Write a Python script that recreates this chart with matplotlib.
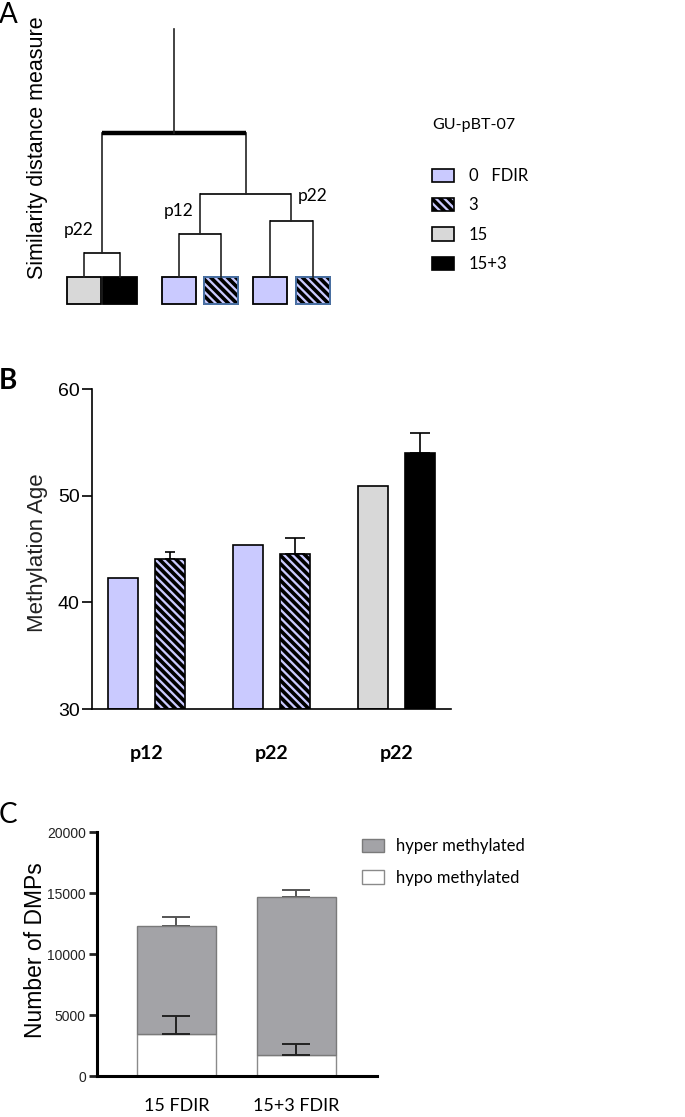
import matplotlib
matplotlib.use("Agg")
import matplotlib.pyplot as plt
from matplotlib.patches import Patch
from matplotlib.transforms import ScaledTranslation

plt.rcParams['font.family'] = ['Lato', 'DejaVu Sans']
plt.rcParams['hatch.linewidth'] = 2.6

W, H = 685, 1117

# ---- data -------------------------------------------------------------
# panel A: dendrogram (leaf order left->right), heights in distance units
leaf_cond = ['15', '15+3', '0', '3', '0', '3']
merges = [(0, 1, 24), (2, 3, 43), (4, 5, 56), (7, 8, 83), (6, 9, 144)]
root_top = 248
cluster_labels = ['p22', 'p12', 'p22']

# panel B: methylation age
b_groups = ['p12', 'p22', 'p22']
b_cond = ['0', '3', '0', '3', '15', '15+3']
b_age = [42.25, 44.1, 45.4, 44.5, 50.9, 54.0]
b_err = [0.0, 0.65, 0.0, 1.5, 0.0, 1.9]

# panel C: number of DMPs
c_groups = ['15 FDIR', '15+3 FDIR']
c_hypo = [3450, 1750]
c_hypo_err = [1500, 880]
c_total = [12300, 14670]
c_total_err = [770, 600]

legend_labels = {'0': '0   FDIR', '3': '3', '15': '15', '15+3': '15+3'}

PURPLE = '#cacaff'
style = {
    '0': dict(facecolor=PURPLE, edgecolor='black', hatch=None),
    '3': dict(facecolor=PURPLE, edgecolor='black', hatch='\\\\\\\\'),
    '15': dict(facecolor='#d8d8d8', edgecolor='black', hatch=None),
    '15+3': dict(facecolor='black', edgecolor='black', hatch=None),
}


def frac(l, t, r, b):
    return [l / W, 1 - b / H, (r - l) / W, (b - t) / H]


fig = plt.figure(figsize=(W / 100, H / 100), dpi=100)

# ===== A: dendrogram ====================================================
axA = fig.add_axes(frac(0, 0, W, 330))
axA.set_xlim(0, W)
axA.set_ylim(-53, 277)
axA.axis('off')

leaf_x = [84, 120, 179, 221, 270, 313]
node_x = list(leaf_x)
node_h = [0] * len(leaf_x)
for i, (a, b, h) in enumerate(merges):
    lw = 3.2 if i == len(merges) - 1 else 1.2
    xa, xb = node_x[a], node_x[b]
    axA.plot([xa, xa], [node_h[a], h], color='#222222', lw=1.2)
    axA.plot([xb, xb], [node_h[b], h], color='#222222', lw=1.2)
    axA.plot([xa, xb], [h, h], color='black', lw=lw, solid_capstyle='butt')
    node_x.append((xa + xb) / 2)
    node_h.append(h)
axA.plot([node_x[-1], node_x[-1]], [node_h[-1], root_top], color='#222222', lw=1.2)

for x, c in zip(leaf_x, leaf_cond):
    st = style[c]
    axA.bar(x, 27, width=34, bottom=-27, facecolor=st['facecolor'],
            edgecolor=st['edgecolor'], hatch=st['hatch'], lw=1.3)
    if st['hatch']:
        axA.bar(x, 27, width=34, bottom=-27, facecolor='none',
                edgecolor='#4f79b0', lw=1.3)

# cluster labels at the left / middle / right sub-clusters
for lab, (x, y) in zip(cluster_labels, [(79, 47), (179, 66), (313, 81)]):
    axA.text(x, y, lab, ha='center', va='center', fontsize=12.5)

fig.text(38 / W, 1 - 148 / H, 'Similarity distance measure', rotation=90,
         ha='center', va='center', fontsize=15.5, family='Liberation Sans')
fig.text(8 / W, 1 - 15 / H, 'A', ha='center', va='center', fontsize=20)

fig.text(432 / W, 1 - 125 / H, 'GU-pBT-07', ha='left', va='center', fontsize=11.5)
handles = [Patch(facecolor=style[c]['facecolor'], edgecolor='black',
                 hatch=style[c]['hatch'], lw=1.2, label=legend_labels[c])
           for c in ['0', '3', '15', '15+3']]
fig.legend(handles=handles, loc='upper left',
           bbox_to_anchor=(417 / W, 1 - 153 / H), frameon=False,
           fontsize=12, handlelength=1.3, handleheight=0.85,
           handletextpad=0.9, labelspacing=0.8)

# ===== B: methylation age ===============================================
axB = fig.add_axes(frac(92, 389, 451, 709))
gx = range(len(b_groups))
offs = [-0.188, 0.188]
xs = [g + o for g in gx for o in offs]
for x, v, e, c in zip(xs, b_age, b_err, b_cond):
    st = style[c]
    axB.bar(x, v - 30, bottom=30, width=0.24, facecolor=st['facecolor'],
            edgecolor='black', hatch=st['hatch'], lw=1.2, zorder=2)
    if e > 0:
        cs = 3.8 if e < 1 else 7.2
        axB.errorbar(x, v, yerr=[[0], [e]], fmt='none', ecolor='black',
                     elinewidth=1.2, capsize=cs, capthick=1.2, zorder=1)
axB.set_xlim(-0.436, 2.44)
axB.set_ylim(30, 60)
axB.set_yticks([30, 40, 50, 60])
axB.set_xticks(list(gx))
axB.set_xticklabels(b_groups, fontsize=14, fontweight='bold')
axB.tick_params(axis='x', length=0, pad=26)
axB.tick_params(axis='y', length=7, width=1.2, labelsize=14, pad=2)
for t in axB.get_yticklabels():
    t.set_family('Liberation Sans')
for s in ['top', 'right']:
    axB.spines[s].set_visible(False)
for s in ['left', 'bottom']:
    axB.spines[s].set_linewidth(1.2)
fig.text(38 / W, 1 - 553 / H, 'Methylation Age', rotation=90, ha='center',
         va='center', fontsize=16, family='Liberation Sans', color='#222222')
fig.text(8 / W, 1 - 381 / H, 'B', ha='center', va='center', fontsize=20,
         fontweight='bold')

# ===== C: number of DMPs ================================================
axC = fig.add_axes(frac(97, 832.3, 377, 1076))
cx = list(range(len(c_groups)))
c_hyper = [t - h for t, h in zip(c_total, c_hypo)]
axC.bar(cx, c_hypo, width=0.658, facecolor='white', edgecolor='#8a8a8a',
        lw=1.0, label='hypo methylated', zorder=2)
axC.bar(cx, c_hyper, bottom=c_hypo, width=0.658, facecolor='#a3a3a7',
        edgecolor='#7a7a7a', lw=1.0, label='hyper methylated', zorder=2)
axC.errorbar(cx, c_hypo, yerr=[[0] * len(cx), c_hypo_err], fmt='none',
             ecolor='#222222', elinewidth=1.4, capsize=10, capthick=1.4, zorder=3)
axC.errorbar(cx, c_total, yerr=[[0] * len(cx), c_total_err], fmt='none',
             ecolor='#555555', elinewidth=1.4, capsize=10, capthick=1.4, zorder=1)
axC.set_xlim(-0.6625, 1.671)
axC.set_ylim(0, 20000)
axC.set_yticks([0, 5000, 10000, 15000, 20000])
axC.set_xticks(cx)
axC.set_xticklabels(c_groups, fontsize=13)
shift = ScaledTranslation(7 / 100, 0, fig.dpi_scale_trans)
for t in axC.get_xticklabels():
    t.set_transform(t.get_transform() + shift)
axC.tick_params(axis='x', length=0, pad=16)
axC.tick_params(axis='y', length=6, width=2, labelsize=10, pad=2, colors='#222222')
for t in axC.get_yticklabels():
    t.set_family('Liberation Sans')
for s in ['top', 'right']:
    axC.spines[s].set_visible(False)
for s in ['left', 'bottom']:
    axC.spines[s].set_linewidth(2.2)
h_, l_ = axC.get_legend_handles_labels()
fig.legend(h_[::-1], l_[::-1], loc='upper left',
           bbox_to_anchor=(347 / W, 1 - 823 / H), frameon=False, fontsize=12,
           handlelength=1.3, handleheight=0.85, handletextpad=0.75,
           labelspacing=0.95)
fig.text(36 / W, 1 - 950 / H, 'Number of DMPs', rotation=90, ha='center',
         va='center', fontsize=16.5, family='Liberation Sans')
fig.text(8 / W, 1 - 815 / H, 'C', ha='center', va='center', fontsize=20)

fig.savefig('out.png', dpi=100)
